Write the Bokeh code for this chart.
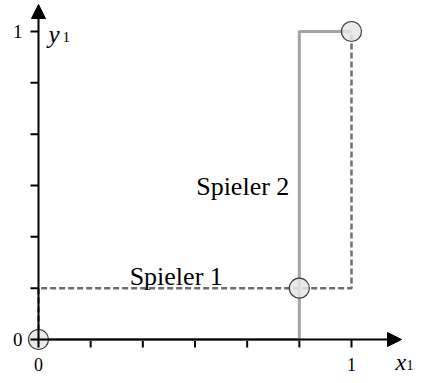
from bokeh.plotting import figure
from bokeh.models import Range1d, Arrow, NormalHead
from bokeh.core.properties import value
from bokeh.embed import file_html
from bokeh.resources import INLINE

# ---- data ----
tick_values = [0, 1/6, 2/6, 3/6, 4/6, 5/6, 1]
tick_labels = ["0", "", "", "", "", "", "1"]
p1_x = [0, 0, 1, 1]            # Spieler 1 best response
p1_y = [0, 1/6, 1/6, 1]
p2_x = [0, 5/6, 5/6, 1]        # Spieler 2 best response
p2_y = [0, 0, 1, 1]
eq_x = [0, 5/6, 1]             # equilibria
eq_y = [0, 1/6, 1]

# ---- layout ----
W, H = 415, 375
ox, oy = 38, 339          # origin pixel inside the plot
sx, sy = 313, 308         # pixels per unit
FONT = "Liberation Serif"

p = figure(width=W, height=H, output_backend="svg", toolbar_location=None,
           x_range=Range1d(-ox / sx, (W - ox) / sx),
           y_range=Range1d(-(H - oy) / sy, oy / sy),
           x_axis_type=None, y_axis_type=None, min_border=0)
p.grid.visible = False
p.outline_line_color = None
p.background_fill_color = "white"
p.border_fill_color = "white"

# axes with arrows
tl = 8
p.add_layout(Arrow(end=NormalHead(size=14, fill_color="black", line_color="black"),
                   x_start=0, y_start=-tl / sy, x_end=0, y_end=(oy - 4) / sy,
                   line_width=2, line_color="black"))
p.add_layout(Arrow(end=NormalHead(size=14, fill_color="black", line_color="black"),
                   x_start=-tl / sx, y_start=0, x_end=(401 - ox) / sx, y_end=0,
                   line_width=2, line_color="black"))

# ticks
p.segment(x0=tick_values, y0=[0] * 7, x1=tick_values, y1=[-tl / sy] * 7,
          line_color="black", line_width=2)
p.segment(x0=[0] * 7, y0=tick_values, x1=[-tl / sx] * 7, y1=tick_values,
          line_color="black", line_width=2)

# tick labels
lab_v = [v for v, t in zip(tick_values, tick_labels) if t]
lab_t = [t for t in tick_labels if t]
p.text(x=lab_v, y=[0] * len(lab_v), text=lab_t, text_align="center",
       text_baseline="alphabetic", y_offset=25, text_font=value(FONT),
       text_font_size="18px", text_color="black")
p.text(x=[0] * len(lab_v), y=lab_v, text=lab_t, text_align="right",
       text_baseline="middle", x_offset=-16, text_font=value(FONT),
       text_font_size="19px", text_color="black")

# axis titles
p.text(x=[0], y=[1], text=["y"], text_align="left", text_baseline="alphabetic",
       x_offset=10, y_offset=3, text_font=value(FONT), text_font_style="italic",
       text_font_size="25px", text_color="black")
p.text(x=[0], y=[1], text=["1"], text_align="left", text_baseline="alphabetic",
       x_offset=24, y_offset=5, text_font=value(FONT),
       text_font_size="15px", text_color="black")
p.text(x=[1], y=[0], text=["x"], text_align="left", text_baseline="alphabetic",
       x_offset=44, y_offset=22, text_font=value(FONT), text_font_style="italic",
       text_font_size="24px", text_color="black")
p.text(x=[1], y=[0], text=["1"], text_align="left", text_baseline="alphabetic",
       x_offset=55, y_offset=25, text_font=value(FONT),
       text_font_size="14px", text_color="black")

# best responses
p.line(p2_x, p2_y, line_color="#a4a4a4", line_width=3)
p.line(p1_x, p1_y, line_color="#6e6e6e", line_width=2.5, line_dash="6 3")

# equilibria
p.scatter(eq_x, eq_y, size=20, marker="circle", fill_color="#e6e6e6",
          fill_alpha=0.85, line_color="#3a3a3a", line_width=1.2)

# labels
p.text(x=[5/6], y=[0.5], text=["Spieler 2"], text_align="right",
       text_baseline="alphabetic", x_offset=-10, y_offset=1,
       text_font=value(FONT), text_font_size="26px", text_color="black")
p.text(x=[0.44], y=[1/6], text=["Spieler 1"], text_align="center",
       text_baseline="alphabetic", y_offset=-12,
       text_font=value(FONT), text_font_size="26px", text_color="black")

open("out.html", "w").write(file_html(p, INLINE))
